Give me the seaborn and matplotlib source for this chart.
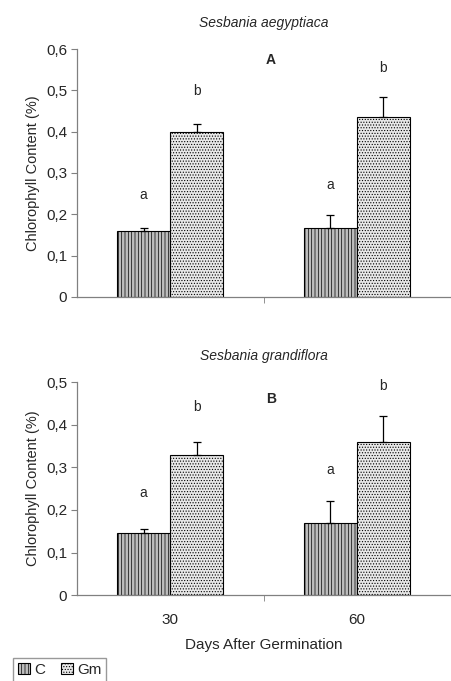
import matplotlib
matplotlib.use("Agg")
import matplotlib.pyplot as plt
import matplotlib.patches as mpatches
from matplotlib.ticker import FuncFormatter
import seaborn as sns
import pandas as pd

days = ["30", "60"]
treatments = ["C", "Gm"]

# panel A: Sesbania aegyptiaca
a_c = [0.160, 0.168]
a_gm = [0.400, 0.435]
a_c_err = [0.008, 0.030]
a_gm_err = [0.018, 0.050]
a_c_letters = ["a", "a"]
a_gm_letters = ["b", "b"]

# panel B: Sesbania grandiflora
b_c = [0.147, 0.170]
b_gm = [0.330, 0.360]
b_c_err = [0.008, 0.050]
b_gm_err = [0.030, 0.060]
b_c_letters = ["a", "a"]
b_gm_letters = ["b", "b"]

sns.set_style("white")
plt.rcParams["font.family"] = ["Liberation Sans", "DejaVu Sans"]
plt.rcParams["hatch.linewidth"] = 0.5

fills = {"C": "#bdbdbd", "Gm": "#e8e8e8"}
hatches = {"C": "|||||", "Gm": "......"}

fig = plt.figure(figsize=(4.52, 6.81), dpi=100)
ax1 = fig.add_axes([0.170, 0.564, 0.826, 0.364])
ax2 = fig.add_axes([0.170, 0.126, 0.826, 0.313])


def comma(v, pos):
    if abs(v) < 1e-9:
        return "0"
    return f"{v:.1f}".replace(".", ",")


def panel(ax, c, gm, c_err, gm_err, c_let, gm_let, ymax, title, tag, tag_y, let_off):
    df = pd.DataFrame({
        "day": days * 2,
        "treat": ["C"] * 2 + ["Gm"] * 2,
        "val": c + gm,
    })
    sns.barplot(df, x="day", y="val", hue="treat", hue_order=treatments,
                order=days, palette=fills, width=0.57, ax=ax,
                edgecolor="black", linewidth=0.8, legend=False, errorbar=None)
    errs = {"C": c_err, "Gm": gm_err}
    vals = {"C": c, "Gm": gm}
    lets = {"C": c_let, "Gm": gm_let}
    for cont, tr in zip(ax.containers, treatments):
        for i, bar in enumerate(cont):
            bar.set_hatch(hatches[tr])
            x = bar.get_x() + bar.get_width() / 2
            ax.errorbar(x, vals[tr][i], yerr=[[0], [errs[tr][i]]], fmt="none",
                        ecolor="black", elinewidth=0.9, capsize=3, capthick=0.9)
            ax.text(x, vals[tr][i] + errs[tr][i] + let_off[tr][i], lets[tr][i],
                    ha="center", va="center", fontsize=10)
    ax.set_xlim(-0.5, 1.5)
    ax.set_ylim(0, ymax)
    ax.set_yticks([i / 10 for i in range(int(round(ymax * 10)) + 1)])
    ax.yaxis.set_major_formatter(FuncFormatter(comma))
    ax.set_ylabel("Chlorophyll Content (%)", fontsize=10.5)
    ax.set_xlabel("")
    ax.set_title(title, fontsize=10, style="italic", pad=16)
    ax.text(0.52, tag_y, tag, transform=ax.transAxes, fontsize=10,
            fontweight="bold", ha="center", va="center")
    for s in ["top", "right"]:
        ax.spines[s].set_visible(False)
    for s in ["left", "bottom"]:
        ax.spines[s].set_color("#808080")
        ax.spines[s].set_linewidth(0.9)
    ax.tick_params(axis="y", left=True, length=4, color="#808080",
                   labelsize=11, pad=3)
    ax.set_xticks([0.5], minor=True)
    ax.tick_params(axis="x", which="minor", bottom=True, length=4,
                   color="#808080")
    ax.tick_params(axis="x", which="major", bottom=False, labelsize=11, pad=9)


panel(ax1, a_c, a_gm, a_c_err, a_gm_err, a_c_letters, a_gm_letters, 0.6,
      "Sesbania aegyptiaca", "A", 0.955,
      {"C": [0.079, 0.072], "Gm": [0.080, 0.069]})
ax1.set_xticklabels([])

panel(ax2, b_c, b_gm, b_c_err, b_gm_err, b_c_letters, b_gm_letters, 0.5,
      "Sesbania grandiflora", "B", 0.92,
      {"C": [0.084, 0.073], "Gm": [0.081, 0.070]})
ax2.set_xlabel("Days After Germination", fontsize=11, labelpad=8)

handles = [mpatches.Patch(facecolor=fills[t], hatch=hatches[t],
                          edgecolor="black", linewidth=0.8, label=t)
           for t in treatments]
fig.legend(handles=handles, loc="lower left", bbox_to_anchor=(0.012, -0.012),
           ncol=2, frameon=True, fancybox=False, edgecolor="#808080",
           fontsize=11, handlelength=0.8, handleheight=0.8, handletextpad=0.3,
           columnspacing=1.0, borderpad=0.3)

fig.savefig("out.png", dpi=100)
